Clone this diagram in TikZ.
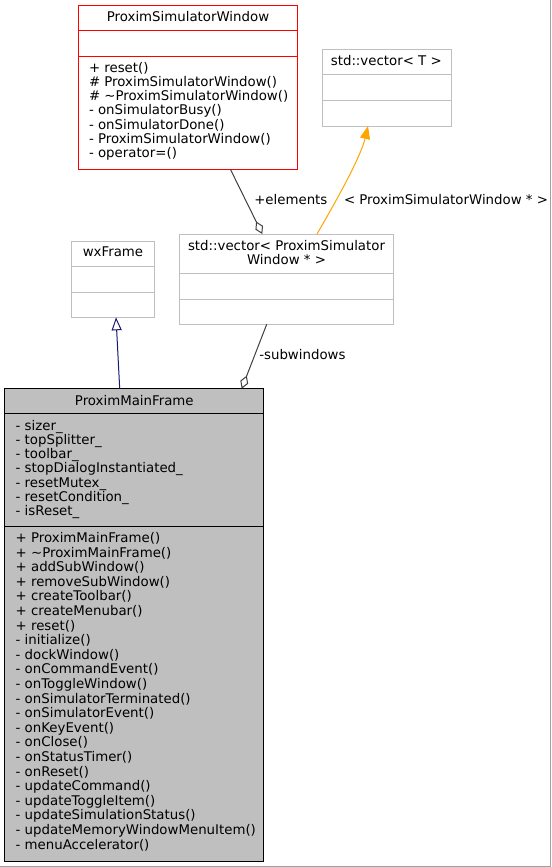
\documentclass[tikz,border=0pt]{standalone}
\usepackage{fontspec}
\setmainfont{DejaVu Sans}
\usetikzlibrary{arrows.meta,fit}
\definecolor{gbox}{HTML}{BFBFBF}
\definecolor{edgegray}{HTML}{404040}
\definecolor{navyedge}{HTML}{191970}
\definecolor{orangeedge}{HTML}{FFA500}
\definecolor{redbox}{HTML}{FF0000}
\definecolor{framegray}{HTML}{A0A0A0}
\begin{document}
\begin{tikzpicture}[x=0.75pt,y=-0.75pt,
  font=\fontsize{10}{10.5}\selectfont,
  box/.style={draw=gbox, fill=white, line width=0.75pt, inner sep=0pt, outer sep=0pt},
  sepline/.style={line width=0.75pt},
  txt/.style={inner sep=0pt, outer sep=0pt},
  agg/.style={draw=edgegray, line width=0.75pt, -{Diamond[open, length=10.5pt, width=6.3pt, line width=0.75pt]}},
  inh/.style={draw=navyedge, line width=0.75pt, -{Triangle[open, length=9.75pt, width=7.5pt, line width=0.75pt]}},
  tmpl/.style={draw=orangeedge, line width=0.75pt, -{Triangle[length=9.75pt, width=7.5pt, fill=orangeedge]}}
]
\useasboundingbox[fill=white] (0,0) rectangle (551,867);
\draw[framegray, line width=0.75pt] (550.5,0) -- (550.5,867);
\draw[framegray, line width=0.75pt] (0,866.5) -- (551,866.5);

% ProximSimulatorWindow
\node[box, draw=redbox, fit={(78.5,5.5) (297,169.5)}] (psw) {};
\draw[sepline, redbox] (psw.west |- 0,31) -- (psw.east |- 0,31);
\draw[sepline, redbox] (psw.west |- 0,56.7) -- (psw.east |- 0,56.7);
\node[txt, anchor=base] (pswt) at (188,21.5) {ProximSimulatorWindow};
\foreach \t [count=\i from 0] in {+ reset(), \# ProximSimulatorWindow(), \# \textasciitilde ProximSimulatorWindow(), - onSimulatorBusy(), - onSimulatorDone(), - ProximSimulatorWindow(), - operator=()}{
  \node[txt, anchor=base west] (pswm\i) at (89,{72.3+14.2*\i}) {\t};
}

% std::vector< T >
\node[box, fit={(322,50) (451.3,126)}] (vecT) {};
\draw[sepline, gbox] (vecT.west |- 0,74.7) -- (vecT.east |- 0,74.7);
\draw[sepline, gbox] (vecT.west |- 0,100.7) -- (vecT.east |- 0,100.7);
\node[txt, anchor=base] (vecTt) at (386.3,66) {std::vector< T >};

% std::vector< ProximSimulatorWindow * >
\node[box, fit={(179.3,234) (393.7,324.3)}] (vecP) {};
\draw[sepline, gbox] (vecP.west |- 0,273.7) -- (vecP.east |- 0,273.7);
\draw[sepline, gbox] (vecP.west |- 0,299.3) -- (vecP.east |- 0,299.3);
\node[txt, anchor=base] (vecPt1) at (286.5,250) {std::vector< ProximSimulator};
\node[txt, anchor=base] (vecPt2) at (286.5,264.5) {Window * >};

% wxFrame
\node[box, fit={(71.7,241) (154.7,317.3)}] (wx) {};
\draw[sepline, gbox] (wx.west |- 0,266.7) -- (wx.east |- 0,266.7);
\draw[sepline, gbox] (wx.west |- 0,292) -- (wx.east |- 0,292);
\node[txt, anchor=base] (wxt) at (113,256.7) {wxFrame};

% ProximMainFrame
\node[box, draw=black, fill=gbox, fit={(4.7,388.7) (263.3,861.7)}] (main) {};
\draw[sepline, black] (main.west |- 0,413.7) -- (main.east |- 0,413.7);
\draw[sepline, black] (main.west |- 0,526.7) -- (main.east |- 0,526.7);
\node[txt, anchor=base] (maint) at (134.3,405) {ProximMainFrame};
\foreach \t [count=\i from 0] in {- sizer\_, - topSplitter\_, - toolbar\_, - stopDialogInstantiated\_, - resetMutex\_, - resetCondition\_, - isReset\_}{
  \node[txt, anchor=base west] (mainA\i) at (15.7,{430+14.3*\i}) {\t};
}
\foreach \t [count=\i from 0] in {+ ProximMainFrame(), + \textasciitilde ProximMainFrame(), + addSubWindow(), + removeSubWindow(), + createToolbar(), + createMenubar(), + reset(), - initialize(), - dockWindow(), - onCommandEvent(), - onToggleWindow(), - onSimulatorTerminated(), - onSimulatorEvent(), - onKeyEvent(), - onClose(), - onStatusTimer(), - onReset(), - updateCommand(), - updateToggleItem(), - updateSimulationStatus(), - updateMemoryWindowMenuItem(), - menuAccelerator()}{
  \node[txt, anchor=base west] (mainM\i) at (15.7,{542.5+14.6*\i}) {\t};
}

% connectors
\draw[agg] (psw.south -| 230.5,0) -- (vecP.north -| 262.3,0);
\node[txt, anchor=base west] (lblel) at (254.3,204.3) {+elements};

\draw[tmpl] (vecP.north -| 317,0) .. controls (328,215) and (360,160) .. (vecT.south -| 368,0);
\node[txt, anchor=base west] (lbltm) at (344,204.3) {< ProximSimulatorWindow * >};

\draw[agg] (vecP.south -| 266.7,0) -- (main.north -| 241.7,0);
\node[txt, anchor=base west] (lblsw) at (259.3,359.3) {-subwindows};

\draw[inh] (main.north -| 119.7,0) -- (wx.south -| 116,0);
\end{tikzpicture}
\end{document}
